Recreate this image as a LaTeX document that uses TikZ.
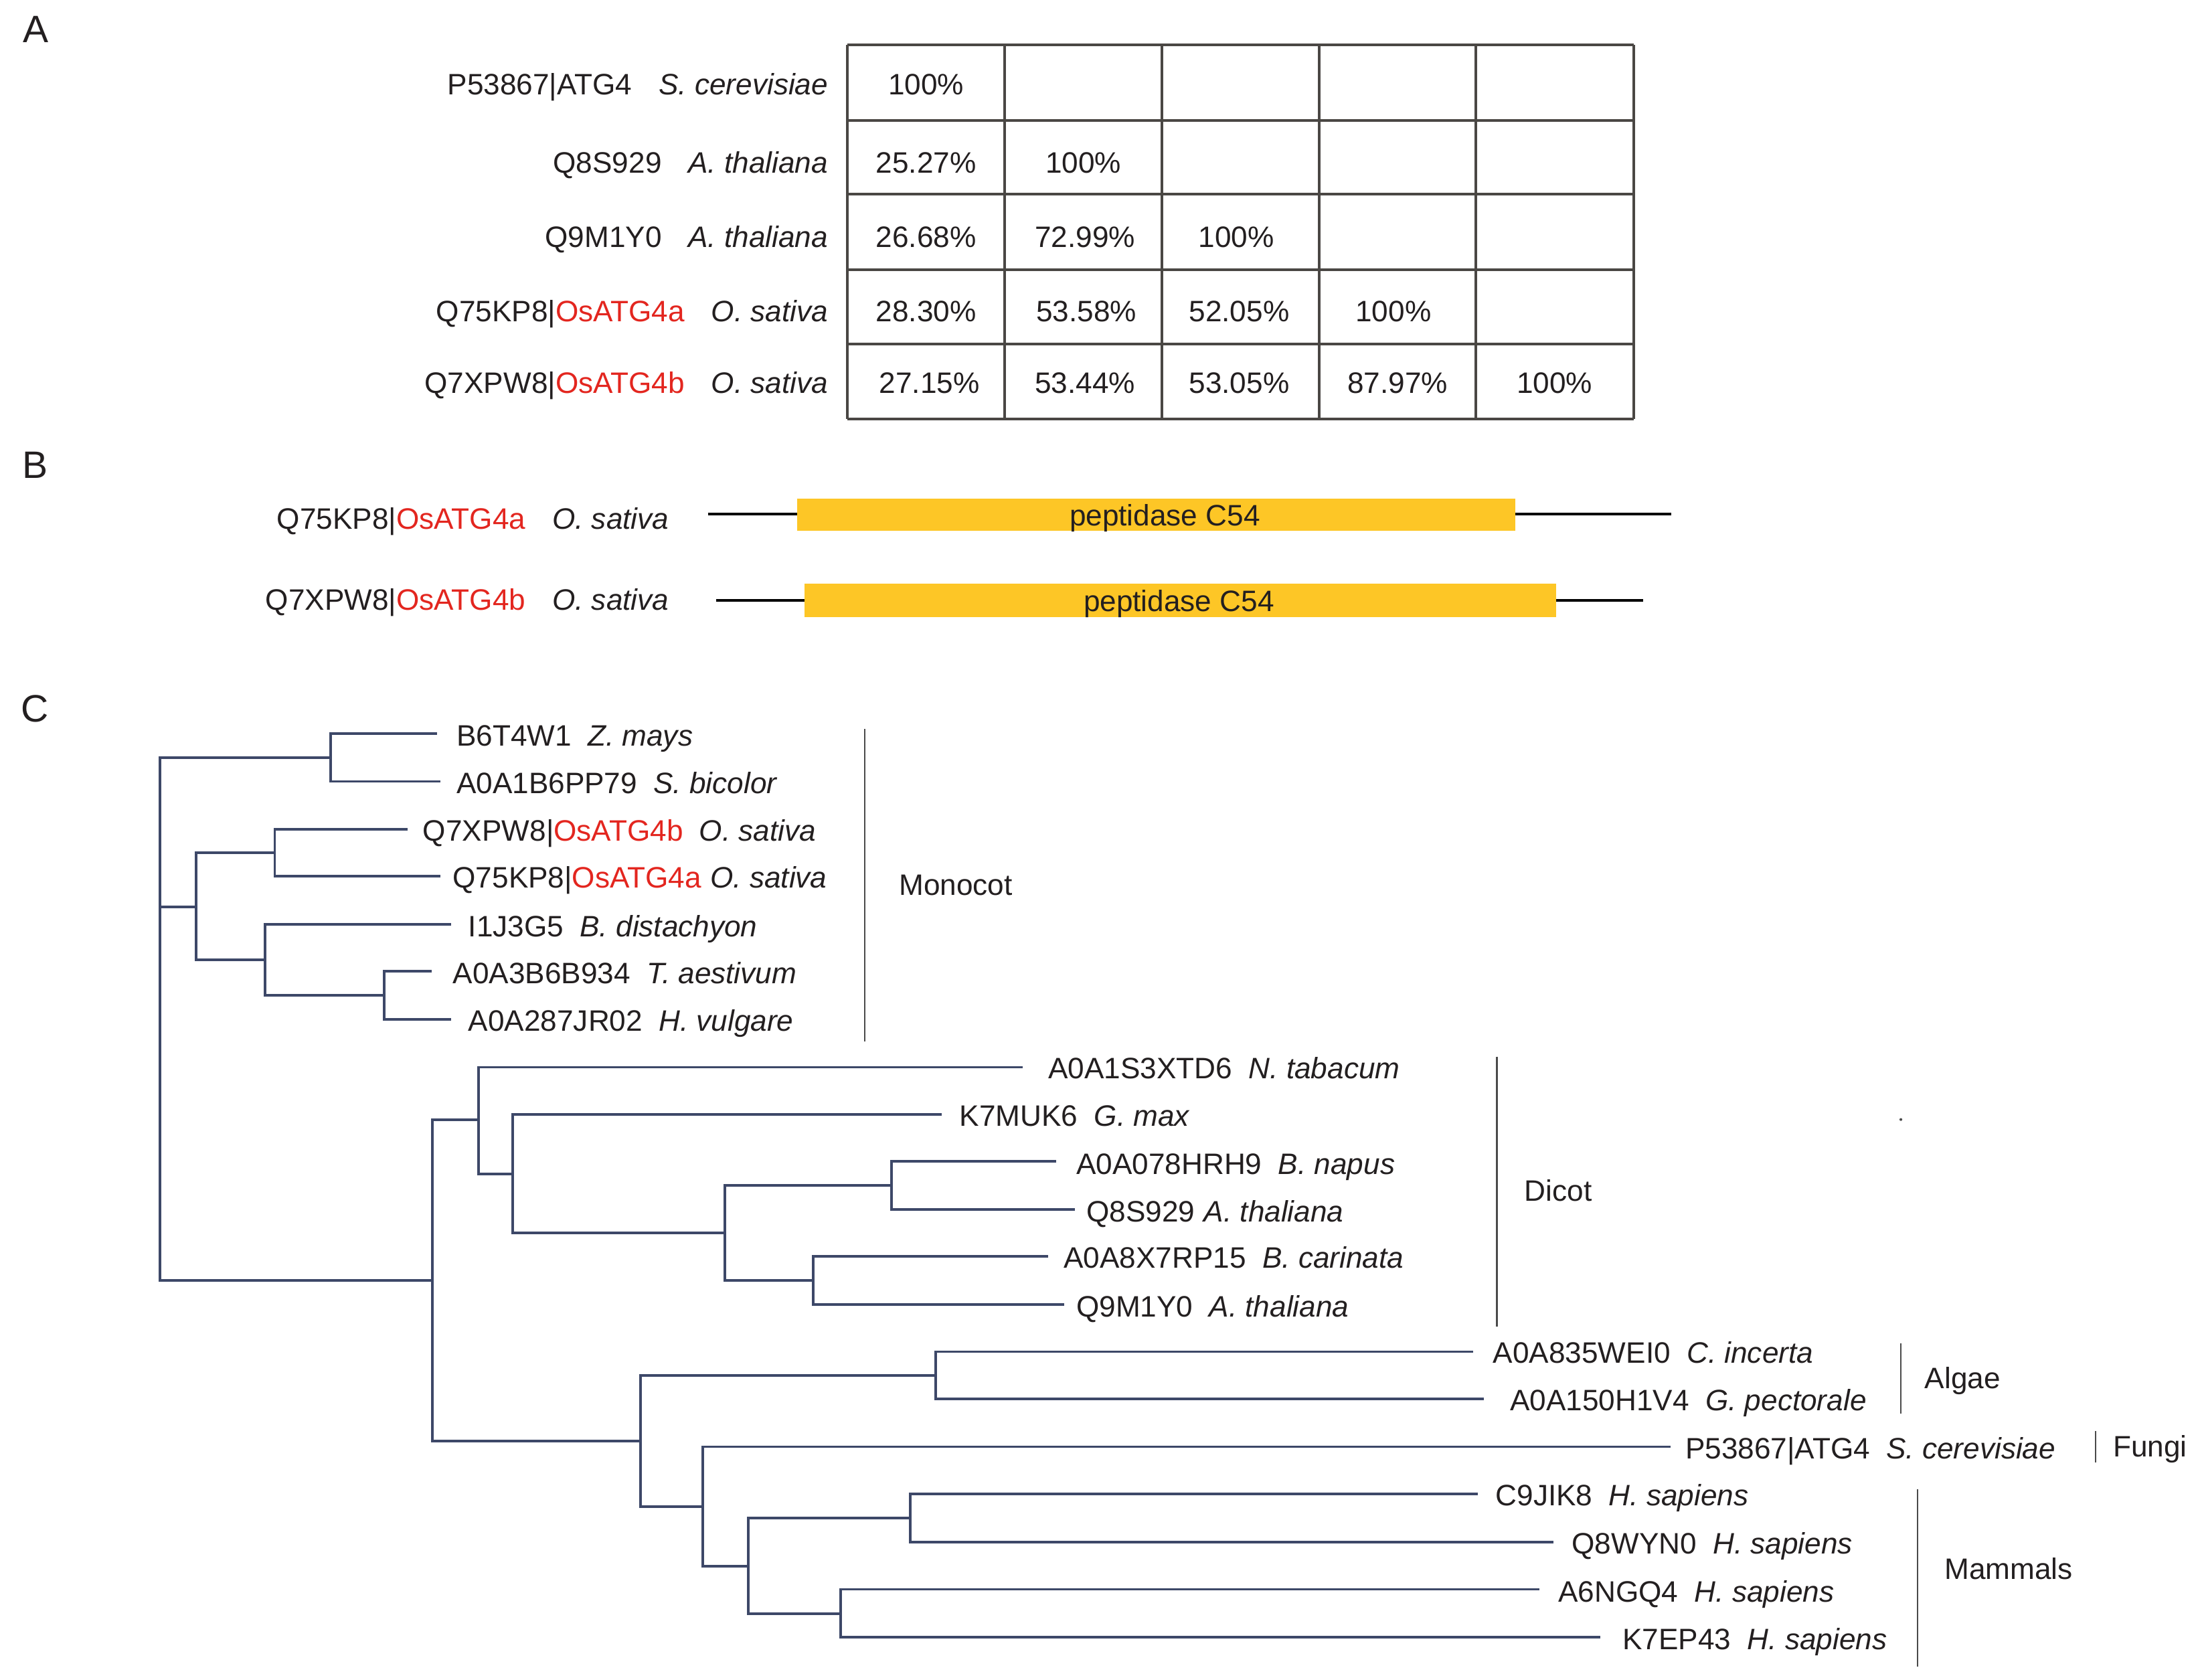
\documentclass[tikz,border=0pt]{standalone}
\usepackage{fontspec}
\setmainfont{Liberation Sans}
\definecolor{treec}{HTML}{3D4868}
\definecolor{barc}{HTML}{4A4A4A}
\definecolor{osred}{HTML}{E3261F}
\definecolor{domyel}{HTML}{FDC626}
\definecolor{tabc}{HTML}{4A4744}
\definecolor{txt}{HTML}{231F20}
\newcommand{\osr}[1]{\textcolor{osred}{#1}}
\newcommand{\gapA}{\hspace{0.9em}}
\newcommand{\gapC}{\hspace{0.55em}}
\newcommand{\gapS}{\hspace{0.3em}}
\tikzset{
  lab/.style={inner sep=0pt, text=txt, font=\fontsize{12}{14}\selectfont, text height=8.6pt, text depth=0pt},
  labw/.style={lab, anchor=west},
  labe/.style={lab, anchor=east},
  cell/.style={lab, anchor=center},
  panel/.style={inner sep=0pt, text=txt, font=\fontsize{15.5}{18}\selectfont, text height=11.1pt, text depth=0pt},
  br/.style={treec, line width=1.05pt},
  clade/.style={barc, line width=0.6pt},
  tabline/.style={tabc, line width=1.1pt},
  stub/.style={black, line width=1.2pt},
  dom/.style={fill=domyel, draw=none},
}
\begin{document}
\begin{tikzpicture}[x=0.02cm,y=-0.02cm]
\fill[white] (0,0) rectangle (1568,1198);
\useasboundingbox (0,0) rectangle (1568,1198);

% panel letters
\node[panel] (pA) at (25.5,20.5) {A};
\node[panel] (pB) at (25,331.5) {B};
\node[panel] (pC) at (25,505) {C};

% ---------------- Panel A: identity table ----------------
\foreach \y in {31.8,86,138.6,192.5,245.6,298.8}
  \draw[tabline] (604.5,\y) -- (1165.5,\y);
\foreach \x in {604.5,716.7,829,941,1053,1165.5}
  \draw[tabline] (\x,31.8) -- (\x,298.8);

\node[labe] (ta1) at (591,60)  {P53867|ATG4\gapA\textit{S. cerevisiae}};
\node[labe] (ta2) at (591,116) {Q8S929\gapA\textit{A. thaliana}};
\node[labe] (ta3) at (591,169) {Q9M1Y0\gapA\textit{A. thaliana}};
\node[labe] (ta4) at (591,222) {Q75KP8|\osr{OsATG4a}\gapA\textit{O. sativa}};
\node[labe] (ta5) at (591,273) {Q7XPW8|\osr{OsATG4b}\gapA\textit{O. sativa}};

\node[cell] (c11) at (660.6,60) {100\%};
\node[cell] (c21) at (660.6,116) {25.27\%};
\node[cell] (c22) at (772.9,116) {100\%};
\node[cell] (c31) at (660.6,169) {26.68\%};
\node[cell] (c32) at (774,169) {72.99\%};
\node[cell] (c33) at (882,169) {100\%};
\node[cell] (c41) at (660.6,222) {28.30\%};
\node[cell] (c42) at (775,222) {53.58\%};
\node[cell] (c43) at (884,222) {52.05\%};
\node[cell] (c44) at (994,222) {100\%};
\node[cell] (c51) at (663,273) {27.15\%};
\node[cell] (c52) at (774,273) {53.44\%};
\node[cell] (c53) at (884,273) {53.05\%};
\node[cell] (c54) at (997,273) {87.97\%};
\node[cell] (c55) at (1109,273) {100\%};

% ---------------- Panel B: domains ----------------
\node[labe] (b1) at (477.5,370) {Q75KP8|\osr{OsATG4a}\gapA\textit{O. sativa}};
\node[labe] (b2) at (477.5,427.5) {Q7XPW8|\osr{OsATG4b}\gapA\textit{O. sativa}};
\coordinate (s1a) at (505,366.8);
\coordinate (s1b) at (1192,366.8);
\coordinate (s2a) at (511,428.3);
\coordinate (s2b) at (1172,428.3);
\draw[stub] (s1a) -- (s1b);
\draw[stub] (s2a) -- (s2b);
\path[dom] (568.6,355.8) rectangle (1081,378.8);
\path[dom] (574,416.5) rectangle (1110,440.4);
\node[cell] (pd1) at (831,367.5) {peptidase C54};
\node[cell] (pd2) at (841,428.5) {peptidase C54};

% ---------------- Panel C: tree ----------------
% internal nodes
\coordinate (root) at (114,646.8);
\coordinate (n12)  at (236,540.4);
\coordinate (n37)  at (140,646.8);
\coordinate (n34)  at (196,608.4);
\coordinate (n57)  at (189,684.8);
\coordinate (n67)  at (274,710);
\coordinate (ndo)  at (308.5,913.5);
\coordinate (d0)   at (341.5,798.8);
\coordinate (d2)   at (365.8,837.4);
\coordinate (d3)   at (517,879.4);
\coordinate (d4)   at (635.8,845.5);
\coordinate (d5)   at (580.3,913.5);
\coordinate (o0)   at (457,1027.8);
\coordinate (o1)   at (667.5,981.2);
\coordinate (o2)   at (501.4,1074.6);
\coordinate (o3)   at (534,1117.2);
\coordinate (o4)   at (649.4,1082.8);
\coordinate (o5)   at (599.7,1151.3);
% leaf ends
\coordinate (l1)  at (312,523.3);
\coordinate (l2)  at (314,557.4);
\coordinate (l3)  at (291,591.6);
\coordinate (l4)  at (314,625);
\coordinate (l5)  at (322,659.2);
\coordinate (l6)  at (308,692.9);
\coordinate (l7)  at (322,727.2);
\coordinate (l8)  at (729.5,761.3);
\coordinate (l9)  at (672,795);
\coordinate (l10) at (753.5,828.5);
\coordinate (l11) at (767,862.7);
\coordinate (l12) at (747.5,896.2);
\coordinate (l13) at (759,930.4);
\coordinate (l14) at (1051,964.2);
\coordinate (l15) at (1058.7,998);
\coordinate (l16) at (1191.7,1032);
\coordinate (l17) at (1054,1065.5);
\coordinate (l18) at (1108,1100);
\coordinate (l19) at (1098,1133.7);
\coordinate (l20) at (1141.5,1168);

\draw[br] (root) |- (n12);
\draw[br] (root) |- (n37);
\draw[br] (root) |- (ndo);
\draw[br] (n12) |- (l1);
\draw[br] (n12) |- (l2);
\draw[br] (n37) |- (n34);
\draw[br] (n37) |- (n57);
\draw[br] (n34) |- (l3);
\draw[br] (n34) |- (l4);
\draw[br] (n57) |- (l5);
\draw[br] (n57) |- (n67);
\draw[br] (n67) |- (l6);
\draw[br] (n67) |- (l7);
\draw[br] (ndo) |- (d0);
\draw[br] (ndo) |- (o0);
\draw[br] (d0) |- (l8);
\draw[br] (d0) |- (d2);
\draw[br] (d2) |- (l9);
\draw[br] (d2) |- (d3);
\draw[br] (d3) |- (d4);
\draw[br] (d3) |- (d5);
\draw[br] (d4) |- (l10);
\draw[br] (d4) |- (l11);
\draw[br] (d5) |- (l12);
\draw[br] (d5) |- (l13);
\draw[br] (o0) |- (o1);
\draw[br] (o0) |- (o2);
\draw[br] (o1) |- (l14);
\draw[br] (o1) |- (l15);
\draw[br] (o2) |- (l16);
\draw[br] (o2) |- (o3);
\draw[br] (o3) |- (o4);
\draw[br] (o3) |- (o5);
\draw[br] (o4) |- (l17);
\draw[br] (o4) |- (l18);
\draw[br] (o5) |- (l19);
\draw[br] (o5) |- (l20);

% leaf labels
\node[labw] (t1)  at (325.3,524.5) {B6T4W1\gapC\textit{Z. mays}};
\node[labw] (t2)  at (325.3,558.5) {A0A1B6PP79\gapC\textit{S. bicolor}};
\node[labw] (t3)  at (301.4,592.5) {Q7XPW8|\osr{OsATG4b}\gapC\textit{O. sativa}};
\node[labw] (t4)  at (322.7,626)   {Q75KP8|\osr{OsATG4a}\gapS\textit{O. sativa}};
\node[labw] (t5)  at (333.8,660.5) {I1J3G5\gapC\textit{B. distachyon}};
\node[labw] (t6)  at (322.7,694)   {A0A3B6B934\gapC\textit{T. aestivum}};
\node[labw] (t7)  at (333.8,728)   {A0A287JR02\gapC\textit{H. vulgare}};
\node[labw] (t8)  at (747.6,762)   {A0A1S3XTD6\gapC\textit{N. tabacum}};
\node[labw] (t9)  at (684.2,796)   {K7MUK6\gapC\textit{G. max}};
\node[labw] (t10) at (767.5,830)   {A0A078HRH9\gapC\textit{B. napus}};
\node[labw] (t11) at (774.8,864)   {Q8S929\gapS\textit{A. thaliana}};
\node[labw] (t12) at (758.5,897)   {A0A8X7RP15\gapC\textit{B. carinata}};
\node[labw] (t13) at (767.5,932)   {Q9M1Y0\gapC\textit{A. thaliana}};
\node[labw] (t14) at (1064.8,965)  {A0A835WEI0\gapC\textit{C. incerta}};
\node[labw] (t15) at (1076.9,998.5) {A0A150H1V4\gapC\textit{G. pectorale}};
\node[labw] (t16) at (1202,1033)   {P53867|ATG4\gapC\textit{S. cerevisiae}};
\node[labw] (t17) at (1066.6,1066.5) {C9JIK8\gapC\textit{H. sapiens}};
\node[labw] (t18) at (1121,1101)   {Q8WYN0\gapC\textit{H. sapiens}};
\node[labw] (t19) at (1111.3,1135) {A6NGQ4\gapC\textit{H. sapiens}};
\node[labw] (t20) at (1157.2,1169) {K7EP43\gapC\textit{H. sapiens}};

% clade bars and labels
\coordinate (bm1) at (617,520);    \coordinate (bm2) at (617,743);
\coordinate (bd1) at (1067.8,753.7); \coordinate (bd2) at (1067.8,946.2);
\coordinate (ba1) at (1356,958.3); \coordinate (ba2) at (1356,1008.4);
\coordinate (bf1) at (1495,1020.7); \coordinate (bf2) at (1495,1043.2);
\coordinate (bh1) at (1368,1062.2); \coordinate (bh2) at (1368,1189);
\draw[clade] (bm1) -- (bm2);
\draw[clade] (bd1) -- (bd2);
\draw[clade] (ba1) -- (ba2);
\draw[clade] (bf1) -- (bf2);
\draw[clade] (bh1) -- (bh2);
\node[labw] (gm) at (641,631)    {Monocot};
\node[labw] (gd) at (1087.2,849) {Dicot};
\node[labw] (ga) at (1372.8,983) {Algae};
\node[labw] (gf) at (1507,1031.5) {Fungi};
\node[labw] (gh) at (1386.8,1119) {Mammals};

% stray dot
\fill[barc] (1356,798.6) circle (1);
\end{tikzpicture}
\end{document}
